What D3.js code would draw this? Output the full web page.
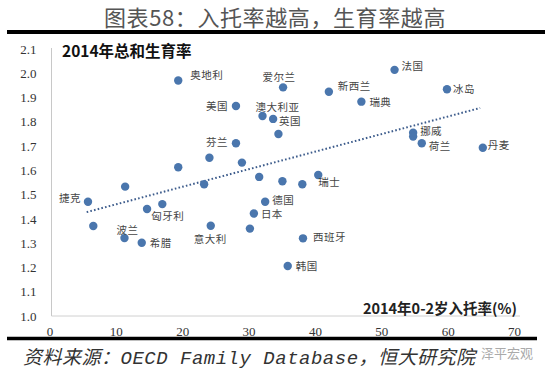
<!DOCTYPE html>
<html>
<head>
<meta charset="utf-8">
<script src="https://cdn.jsdelivr.net/npm/d3@7"></script>
<style>
  body { margin: 0; background: #fff; }
  svg { display: block; }
</style>
</head>
<body>
<div id="chart"></div>
<script>
// chart data
const countries = ["奥地利", "美国", "澳大利亚", "英国", "爱尔兰", "新西兰", "法国", "冰岛", "瑞典", "挪威", "",
  "荷兰", "丹麦", "芬兰", "", "", "", "", "", "", "", "", "", "瑞士", "捷克", "", "波兰", "希腊", "", "匈牙利",
  "意大利", "", "日本", "德国", "西班牙", "韩国"];
const careRate = [19.4, 28.1, 32.1, 33.7, 35.2, 42.1, 52.0, 59.9, 47.0, 54.8, 54.8,
  56.1, 65.3, 28.1, 34.5, 24.1, 19.4, 29.0, 31.6, 11.4, 23.3, 35.1, 38.1, 40.5, 5.8, 6.6, 11.3, 13.9, 14.7, 17.0,
  24.3, 30.2, 30.8, 32.5, 38.2, 35.9];
const fertility = [1.97, 1.865, 1.824, 1.812, 1.942, 1.924, 2.014, 1.934, 1.883, 1.755, 1.739,
  1.712, 1.693, 1.712, 1.75, 1.652, 1.613, 1.632, 1.573, 1.533, 1.543, 1.555, 1.543, 1.581, 1.471, 1.371, 1.321, 1.302, 1.441, 1.461,
  1.372, 1.36, 1.422, 1.471, 1.32, 1.206];
// dotted trend line ends
const trendX = [5.6, 64.9];
const trendY = [1.428, 1.857];
const xTicks = [0, 10, 20, 30, 40, 50, 60, 70];
const yTicks = [1.0, 1.1, 1.2, 1.3, 1.4, 1.5, 1.6, 1.7, 1.8, 1.9, 2.0, 2.1];

const W = 550, H = 374;
const cjk = "'Noto Sans CJK SC', sans-serif";
const serif = "'Liberation Serif', 'DejaVu Serif', serif";

// where each name sits next to its dot: [anchor, dx, dy]
const labelPlace = {
  "奥地利": ["start", 12, -6], "美国": ["end", -8, -1], "澳大利亚": ["start", -7, -9],
  "英国": ["start", 6, 2], "爱尔兰": ["middle", -4, -11], "新西兰": ["start", 9, -6],
  "法国": ["start", 7, -4], "冰岛": ["start", 6, -1], "瑞典": ["start", 8, 0],
  "挪威": ["start", 7, -2], "荷兰": ["start", 7, 2], "丹麦": ["start", 5, -3],
  "瑞士": ["start", 0, 7], "芬兰": ["end", -8, -2], "捷克": ["end", -7, -4],
  "匈牙利": ["start", -11, 11], "波兰": ["start", -8, -9], "希腊": ["start", 8, 0],
  "意大利": ["start", -17, 13], "日本": ["start", 7, 0], "德国": ["start", 7, -2],
  "西班牙": ["start", 10, -2], "韩国": ["start", 8, 0]
};

const svg = d3.select("#chart").append("svg")
  .attr("width", W)
  .attr("height", H);

// scales
const x = d3.scaleLinear().domain([0, 70]).range([49.5, 514]);
const y = d3.scaleLinear().domain([1.0, 2.1]).range([316, 49]);

// page title and thick rules
svg.append("text")
  .attr("x", 275).attr("y", 16)
  .attr("text-anchor", "middle")
  .attr("dominant-baseline", "central")
  .style("font-family", cjk)
  .style("font-size", "22px")
  .style("letter-spacing", "0.6px")
  .style("fill", "#555")
  .text("图表58：入托率越高，生育率越高");

svg.append("line")
  .attr("x1", 7).attr("x2", 545)
  .attr("y1", 32).attr("y2", 32)
  .style("stroke", "#000").style("stroke-width", 4);

svg.append("line")
  .attr("x1", 7).attr("x2", 537)
  .attr("y1", 338.5).attr("y2", 338.5)
  .style("stroke", "#000").style("stroke-width", 3.5);

// axes
const yAxis = d3.axisLeft(y).tickValues(yTicks).tickSize(0).tickPadding(0)
  .tickFormat(d3.format(".1f"));
const gy = svg.append("g")
  .attr("transform", "translate(" + (x(0) + 2) + ",0)")
  .call(yAxis);
gy.select(".domain").attr("d", "M0," + (y(2.1) - 1) + "V" + y(1.0))
  .style("stroke", "#c8c8c8");
gy.selectAll("text")
  .attr("x", -15)
  .style("font-family", serif)
  .style("font-size", "13px")
  .style("fill", "#333");

const xAxis = d3.axisBottom(x).tickValues(xTicks).tickSize(0).tickPadding(0);
const gx = svg.append("g")
  .attr("transform", "translate(0," + y(1.0) + ")")
  .call(xAxis);
gx.select(".domain").attr("d", "M" + (x(0) + 2) + ",0H520")
  .style("stroke", "#d0d0d0");
gx.selectAll("text")
  .attr("y", 11)
  .style("font-family", serif)
  .style("font-size", "13px")
  .style("fill", "#333");

// inner titles
svg.append("text")
  .attr("x", 62).attr("y", 50)
  .attr("dominant-baseline", "central")
  .style("font-family", cjk)
  .style("font-size", "15.5px")
  .style("font-weight", "bold")
  .style("fill", "#111")
  .text("2014年总和生育率");

svg.append("text")
  .attr("x", 517).attr("y", 307)
  .attr("text-anchor", "end")
  .attr("dominant-baseline", "central")
  .style("font-family", cjk)
  .style("font-size", "14.5px")
  .style("font-weight", "bold")
  .style("fill", "#222")
  .text("2014年0-2岁入托率(%)");

// trend line
svg.append("line")
  .attr("x1", x(trendX[0])).attr("y1", y(trendY[0]))
  .attr("x2", x(trendX[1])).attr("y2", y(trendY[1]))
  .style("stroke", "#3d5c8c")
  .style("stroke-width", 2)
  .style("stroke-dasharray", "1.6,2.2");

// dots
const pts = countries.map((c, i) => ({ name: c, cx: careRate[i], fy: fertility[i] }));

svg.append("g").selectAll("circle")
  .data(pts)
  .enter().append("circle")
  .attr("cx", d => x(d.cx))
  .attr("cy", d => y(d.fy))
  .attr("r", 4.2)
  .style("fill", "#4a76ad");

svg.append("g").selectAll("text")
  .data(pts.filter(d => d.name !== ""))
  .enter().append("text")
  .attr("x", d => x(d.cx) + labelPlace[d.name][1])
  .attr("y", d => y(d.fy) + labelPlace[d.name][2])
  .attr("text-anchor", d => labelPlace[d.name][0])
  .attr("dominant-baseline", "central")
  .style("font-family", cjk)
  .style("font-size", "10.5px")
  .style("letter-spacing", "0.5px")
  .style("fill", "#444")
  .text(d => d.name);

// source line
svg.append("text")
  .attr("x", 23).attr("y", 358.5)
  .attr("dominant-baseline", "central")
  .style("font-family", "'Liberation Mono', 'Noto Sans CJK SC', monospace")
  .style("font-style", "italic")
  .style("font-size", "19px")
  .style("letter-spacing", "0.5px")
  .style("fill", "#333")
  .text("资料来源：OECD Family Database，恒大研究院");

// watermark
svg.append("text")
  .attr("x", 533).attr("y", 352)
  .attr("text-anchor", "end")
  .attr("dominant-baseline", "central")
  .style("font-family", cjk)
  .style("font-size", "13px")
  .style("fill", "#aaa")
  .text("泽平宏观");
</script>
</body>
</html>
